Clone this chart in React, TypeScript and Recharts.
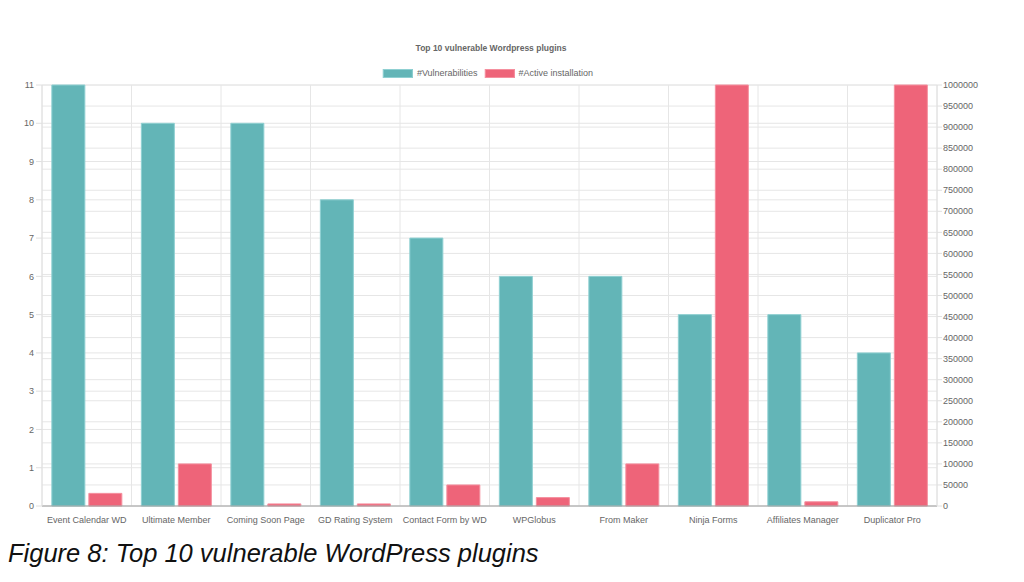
import { BarChart, Bar, XAxis, YAxis, CartesianGrid } from "recharts";

const plugins = [
  "Event Calendar WD",
  "Ultimate Member",
  "Coming Soon Page",
  "GD Rating System",
  "Contact Form by WD",
  "WPGlobus",
  "From Maker",
  "Ninja Forms",
  "Affiliates Manager",
  "Duplicator Pro",
];
const vulnerabilities = [11, 10, 10, 8, 7, 6, 6, 5, 5, 4];
const activeInstallations = [30000, 100000, 5000, 5000, 50000, 20000, 100000, 1000000, 10000, 1000000];

const leftTicks = [0, 1, 2, 3, 4, 5, 6, 7, 8, 9, 10, 11];
const rightTicks = [
  0, 50000, 100000, 150000, 200000, 250000, 300000, 350000, 400000, 450000, 500000,
  550000, 600000, 650000, 700000, 750000, 800000, 850000, 900000, 950000, 1000000,
];

const data = plugins.map((name, i) => ({
  name,
  vulnerabilities: vulnerabilities[i],
  installs: activeInstallations[i],
}));

const TEAL = "#63b5b7";
const PINK = "#ee6479";
const FONT = "'Liberation Sans', Arial, Helvetica, sans-serif";
const tickStyle = { fontSize: 9, fill: "#666", fontFamily: FONT };

export default function App() {
  return (
    <div style={{ position: "absolute", left: 0, top: 0, width: 1024, height: 582, background: "#fff", fontFamily: FONT }}>
      <div
        style={{
          position: "absolute",
          top: 43,
          left: 491,
          transform: "translateX(-50%)",
          fontSize: 8.5,
          fontWeight: "bold",
          color: "#666",
          whiteSpace: "nowrap",
        }}
      >
        Top 10 vulnerable Wordpress plugins
      </div>
      <div
        style={{
          position: "absolute",
          top: 68,
          left: 488,
          transform: "translateX(-50%)",
          display: "flex",
          alignItems: "center",
          fontSize: 9,
          color: "#666",
          whiteSpace: "nowrap",
        }}
      >
        <span style={{ width: 30, height: 9, background: TEAL, border: "1px solid #8fd0d2", boxSizing: "border-box", marginRight: 4 }} />
        <span style={{ marginRight: 7 }}>#Vulnerabilities</span>
        <span style={{ width: 30, height: 9, background: PINK, border: "1px solid #f5909f", boxSizing: "border-box", marginRight: 4 }} />
        <span>#Active installation</span>
      </div>

      <BarChart
        width={1024}
        height={540}
        data={data}
        margin={{ top: 85, right: 0, bottom: 0, left: 0 }}
        barCategoryGap="11%"
        barGap={4}
        style={{ position: "absolute", left: 0, top: 0 }}
      >
        <CartesianGrid
          yAxisId="left"
          stroke="#e6e6e6"
          verticalCoordinatesGenerator={({ offset }: any) =>
            plugins.map((_, i) => offset.left + (offset.width * i) / plugins.length).concat(offset.left + offset.width)
          }
        />
        <CartesianGrid yAxisId="right" stroke="#e6e6e6" vertical={false} />
        <XAxis
          dataKey="name"
          height={34}
          interval={0}
          tick={tickStyle}
          tickLine={false}
          tickMargin={5}
          axisLine={{ stroke: "#a0a0a0" }}
        />
        <YAxis
          yAxisId="left"
          width={42}
          domain={[0, 11]}
          ticks={leftTicks}
          interval={0}
          tick={tickStyle}
          tickSize={6}
          tickMargin={2}
          tickLine={{ stroke: "#e0e0e0" }}
          axisLine={{ stroke: "#e0e0e0" }}
        />
        <YAxis
          yAxisId="right"
          orientation="right"
          width={87}
          domain={[0, 1000000]}
          ticks={rightTicks}
          interval={0}
          tick={tickStyle}
          tickSize={5}
          tickMargin={1}
          tickLine={{ stroke: "#e0e0e0" }}
          axisLine={{ stroke: "#e0e0e0" }}
        />
        <Bar yAxisId="left" dataKey="vulnerabilities" fill={TEAL} stroke="#8fd0d2" strokeWidth={1} isAnimationActive={false} />
        <Bar yAxisId="right" dataKey="installs" fill={PINK} stroke="#f5909f" strokeWidth={1} isAnimationActive={false} />
      </BarChart>

      <div
        style={{
          position: "absolute",
          left: 8,
          top: 539,
          fontSize: 25.5,
          fontStyle: "italic",
          color: "#111",
          whiteSpace: "nowrap",
        }}
      >
        Figure 8: Top 10 vulnerable WordPress plugins
      </div>
    </div>
  );
}
